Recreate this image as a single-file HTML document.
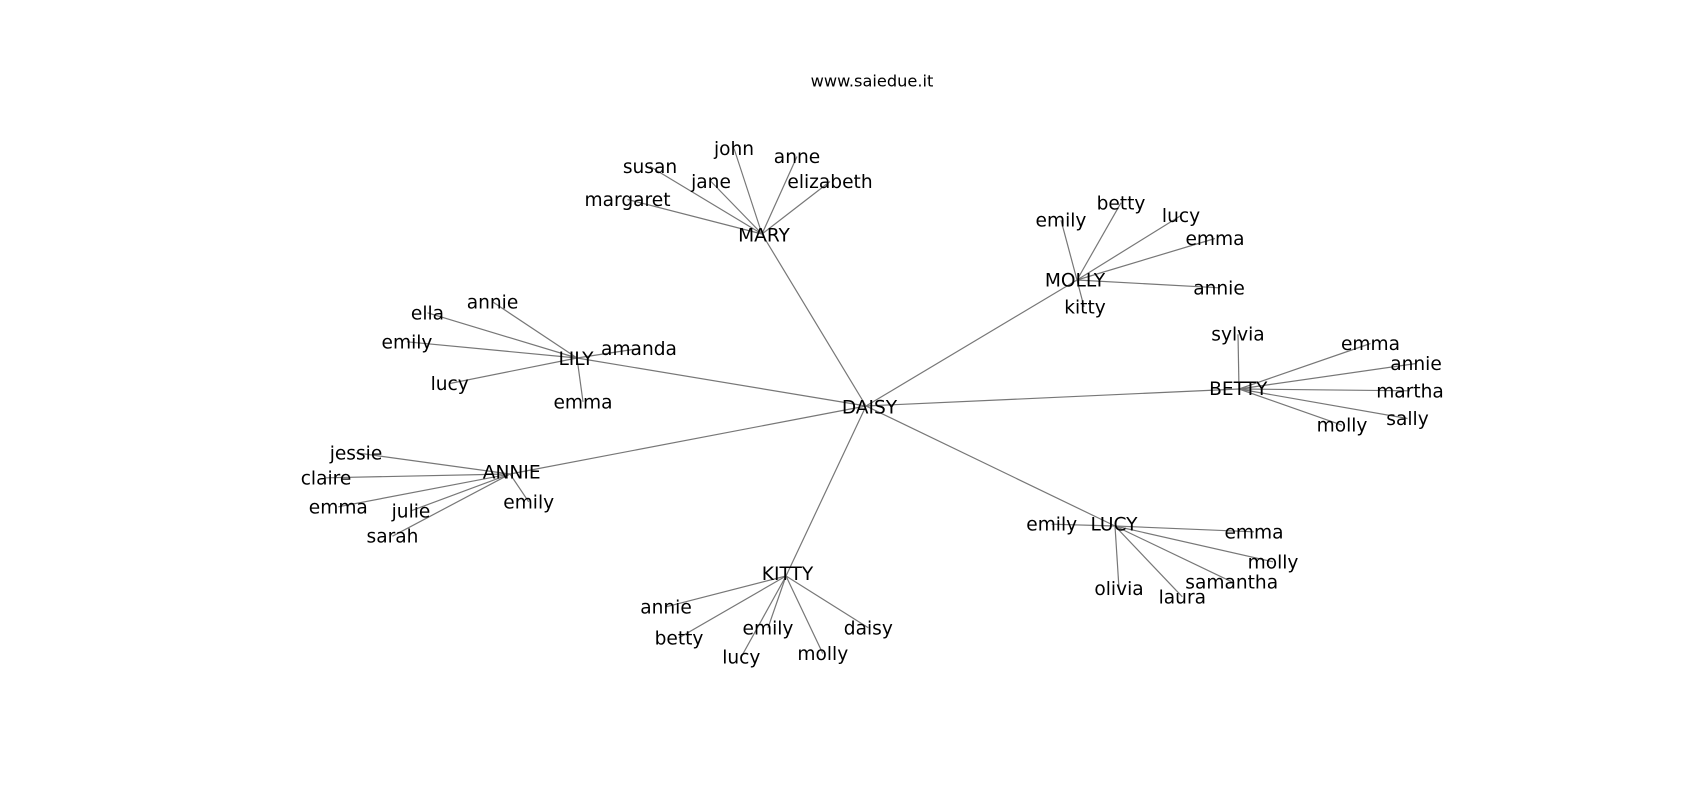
<!DOCTYPE html>
<html><head><meta charset="utf-8"><style>
html,body{margin:0;padding:0;background:#fff;}
svg{display:block;}
text{font-family:"DejaVu Sans","Liberation Sans",sans-serif;fill:#000;}
.l{font-size:18.6px;text-anchor:middle;}
.t{font-size:16.2px;text-anchor:middle;}
line{stroke:#777;stroke-width:1.2;}
</style></head><body>
<svg width="1700" height="800" viewBox="0 0 1700 800" xmlns="http://www.w3.org/2000/svg">
<rect width="1700" height="800" fill="#fff"/>
<text class="t" x="872" y="86.7">www.saiedue.it</text>
<g>
<!-- DAISY hub edges -->
<line x1="866" y1="406" x2="762" y2="234"/>
<line x1="866" y1="406" x2="1077" y2="280"/>
<line x1="866" y1="406" x2="577" y2="358"/>
<line x1="866" y1="406" x2="1239" y2="389"/>
<line x1="866" y1="406" x2="510" y2="474"/>
<line x1="866" y1="406" x2="1115" y2="526"/>
<line x1="866" y1="406" x2="786" y2="576"/>
<!-- MARY -->
<line x1="762" y1="234" x2="734" y2="148.5"/>
<line x1="762" y1="234" x2="797" y2="156.5"/>
<line x1="762" y1="234" x2="650" y2="166.5"/>
<line x1="762" y1="234" x2="711" y2="181.5"/>
<line x1="762" y1="234" x2="830" y2="181.5"/>
<line x1="762" y1="234" x2="627.5" y2="199.5"/>
<!-- MOLLY -->
<line x1="1077" y1="280" x2="1061" y2="220.2"/>
<line x1="1077" y1="280" x2="1121" y2="202.8"/>
<line x1="1077" y1="280" x2="1181" y2="215.5"/>
<line x1="1077" y1="280" x2="1215" y2="238.5"/>
<line x1="1077" y1="280" x2="1219" y2="287.8"/>
<line x1="1077" y1="280" x2="1084" y2="306.8"/>
<!-- LILY -->
<line x1="577" y1="358" x2="492.5" y2="301.8"/>
<line x1="577" y1="358" x2="427.5" y2="312.8"/>
<line x1="577" y1="358" x2="407" y2="341.8"/>
<line x1="577" y1="358" x2="639" y2="348.5"/>
<line x1="577" y1="358" x2="449.7" y2="383.5"/>
<line x1="577" y1="358" x2="583" y2="401.8"/>
<!-- BETTY -->
<line x1="1239" y1="389" x2="1238" y2="334.2"/>
<line x1="1239" y1="389" x2="1370.5" y2="343.5"/>
<line x1="1239" y1="389" x2="1416" y2="363.5"/>
<line x1="1239" y1="389" x2="1410" y2="390.8"/>
<line x1="1239" y1="389" x2="1407.5" y2="418.5"/>
<line x1="1239" y1="389" x2="1342" y2="425.2"/>
<!-- ANNIE -->
<line x1="510" y1="474" x2="356" y2="452.8"/>
<line x1="510" y1="474" x2="326" y2="477.8"/>
<line x1="510" y1="474" x2="338.3" y2="506.8"/>
<line x1="510" y1="474" x2="411" y2="510.8"/>
<line x1="510" y1="474" x2="528.7" y2="501.8"/>
<line x1="510" y1="474" x2="392.5" y2="536.2"/>
<!-- LUCY -->
<line x1="1115" y1="526" x2="1051.7" y2="524.2"/>
<line x1="1115" y1="526" x2="1254" y2="531.8"/>
<line x1="1115" y1="526" x2="1273" y2="561.8"/>
<line x1="1115" y1="526" x2="1231.7" y2="581.8"/>
<line x1="1115" y1="526" x2="1119" y2="588.5"/>
<line x1="1115" y1="526" x2="1182.3" y2="596.8"/>
<!-- KITTY -->
<line x1="786" y1="576" x2="666" y2="606.8"/>
<line x1="786" y1="576" x2="768" y2="627.8"/>
<line x1="786" y1="576" x2="868.3" y2="627.8"/>
<line x1="786" y1="576" x2="679" y2="637.8"/>
<line x1="786" y1="576" x2="741.3" y2="656.8"/>
<line x1="786" y1="576" x2="822.8" y2="653.5"/>
</g>
<g>
<text class="l" x="869.5" y="413.3">DAISY</text>
<text class="l" x="764" y="241.7">MARY</text>
<text class="l" x="1075" y="286.7">MOLLY</text>
<text class="l" x="576" y="365">LILY</text>
<text class="l" x="1238.3" y="395">BETTY</text>
<text class="l" x="511.7" y="478.3">ANNIE</text>
<text class="l" x="1114" y="530.7">LUCY</text>
<text class="l" x="787.5" y="580">KITTY</text>

<text class="l" x="734" y="155">john</text>
<text class="l" x="797" y="163">anne</text>
<text class="l" x="650" y="173">susan</text>
<text class="l" x="711" y="188">jane</text>
<text class="l" x="830" y="188">elizabeth</text>
<text class="l" x="627.5" y="206">margaret</text>

<text class="l" x="1061" y="226.7">emily</text>
<text class="l" x="1121" y="209.3">betty</text>
<text class="l" x="1181" y="222">lucy</text>
<text class="l" x="1215" y="245">emma</text>
<text class="l" x="1219" y="294.3">annie</text>
<text class="l" x="1085" y="313.3">kitty</text>

<text class="l" x="492.5" y="308.3">annie</text>
<text class="l" x="427.5" y="319.3">ella</text>
<text class="l" x="407" y="348.3">emily</text>
<text class="l" x="639" y="355">amanda</text>
<text class="l" x="449.7" y="390">lucy</text>
<text class="l" x="583" y="408.3">emma</text>

<text class="l" x="1238" y="340.7">sylvia</text>
<text class="l" x="1370.5" y="350">emma</text>
<text class="l" x="1416" y="370">annie</text>
<text class="l" x="1410" y="397.3">martha</text>
<text class="l" x="1407.5" y="425">sally</text>
<text class="l" x="1342" y="431.7">molly</text>

<text class="l" x="356" y="459.3">jessie</text>
<text class="l" x="326" y="484.3">claire</text>
<text class="l" x="338.3" y="513.3">emma</text>
<text class="l" x="411" y="517.3">julie</text>
<text class="l" x="528.7" y="508.3">emily</text>
<text class="l" x="392.5" y="542.7">sarah</text>

<text class="l" x="1051.7" y="530.7">emily</text>
<text class="l" x="1254" y="538.3">emma</text>
<text class="l" x="1273" y="568.3">molly</text>
<text class="l" x="1231.7" y="588.3">samantha</text>
<text class="l" x="1119" y="595">olivia</text>
<text class="l" x="1182.3" y="603.3">laura</text>

<text class="l" x="666" y="613.3">annie</text>
<text class="l" x="768" y="634.3">emily</text>
<text class="l" x="868.3" y="634.3">daisy</text>
<text class="l" x="679" y="644.3">betty</text>
<text class="l" x="741.3" y="663.3">lucy</text>
<text class="l" x="822.8" y="660">molly</text>
</g>
</svg>
</body></html>
